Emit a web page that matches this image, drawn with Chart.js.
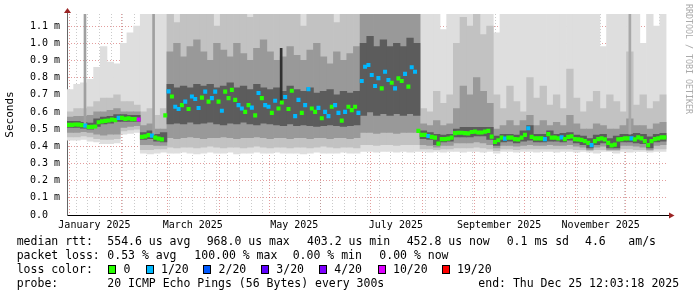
<!DOCTYPE html>
<html>
<head>
<meta charset="utf-8">
<script src="https://cdn.jsdelivr.net/npm/chart.js@4.4.1/dist/chart.umd.min.js"></script>
<style>
body { margin: 0; background: #fff; }
#wrap { position: relative; width: 697px; height: 297px; font-family: "DejaVu Sans Mono", monospace; }
#wrap .t { position: absolute; font-size: 11.5px; line-height: 14px; white-space: pre; color: #000; }
#wrap .sq { position: absolute; width: 8px; height: 9px; box-sizing: border-box; border: 1px solid #000; top: 265px; }
#mark { position: absolute; left: 685px; top: 4px; writing-mode: vertical-rl; font-size: 8.3px; line-height: 8px; color: #aaa; white-space: pre; }
</style>
</head>
<body>
<div id="wrap">
  <canvas id="chart" width="697" height="297"></canvas>
  <div id="mark">RRDTOOL / TOBI OETIKER</div>
  <span class="t" style="left:16.7px;top:234px">median rtt:</span>
  <span class="t" style="left:107.3px;top:234px">554.6 us avg</span>
  <span class="t" style="left:206.7px;top:234px">968.0 us max</span>
  <span class="t" style="left:307px;top:234px">403.2 us min</span>
  <span class="t" style="left:406.7px;top:234px">452.8 us now</span>
  <span class="t" style="left:506.7px;top:234px">0.1 ms sd</span>
  <span class="t" style="left:585px;top:234px">4.6</span>
  <span class="t" style="left:628.3px;top:234px">am/s</span>
  <span class="t" style="left:16.7px;top:248px">packet loss:</span>
  <span class="t" style="left:107.3px;top:248px">0.53 % avg</span>
  <span class="t" style="left:194.3px;top:248px">100.00 % max</span>
  <span class="t" style="left:292.7px;top:248px">0.00 % min</span>
  <span class="t" style="left:379.3px;top:248px">0.00 % now</span>
  <span class="t" style="left:16.7px;top:262px">loss color:</span>
  <span class="t" style="left:16.7px;top:276px">probe:</span>
  <span class="t" style="left:107.3px;top:276px">20 ICMP Echo Pings (56 Bytes) every 300s</span>
  <span class="t" style="left:478.3px;top:276px">end: Thu Dec 25 12:03:18 2025</span>
</div>
<script>
// loss legend
const lossSteps = [0, 1, 2, 3, 4, 10, 19];
const lossNames = ['0', '1/20', '2/20', '3/20', '4/20', '10/20', '19/20'];
const lossColors = ['#26ff00', '#00b8ff', '#0059ff', '#5e00ff', '#7e00ff', '#dd00ff', '#ff0000'];

// x axis labels (mid month)
const monthLabels = ['January 2025', 'March 2025', 'May 2025', 'July 2025', 'September 2025', 'November 2025'];
const labelMonths = [0, 2, 4, 6, 8, 10];

// median rtt (ms), one value per 2 days
const median = [
  0.525, 0.525, 0.527, 0.526, 0.523, 0.52, 0.512, 0.513, 0.515, 0.54,
  0.545, 0.548, 0.55, 0.555, 0.552, 0.565, 0.565, 0.56, 0.562, 0.558,
  0.558, 0.556, 0.455, 0.458, 0.465, 0.462, 0.45, 0.445, 0.44, 0.58,
  0.72, 0.69, 0.63, 0.617, 0.64, 0.66, 0.617, 0.69, 0.675, 0.623,
  0.683, 0.718, 0.66, 0.68, 0.718, 0.66, 0.607, 0.718, 0.68, 0.728,
  0.67, 0.64, 0.62, 0.6, 0.64, 0.625, 0.58, 0.71, 0.68, 0.64,
  0.63, 0.594, 0.665, 0.62, 0.655, 0.687, 0.617, 0.723, 0.576, 0.67,
  0.594, 0.64, 0.733, 0.62, 0.6, 0.624, 0.563, 0.6, 0.576, 0.63,
  0.64, 0.594, 0.549, 0.6, 0.63, 0.61, 0.63, 0.594, 0.78, 0.863,
  0.873, 0.815, 0.751, 0.797, 0.737, 0.834, 0.786, 0.77, 0.737, 0.795,
  0.78, 0.821, 0.747, 0.86, 0.834, 0.49, 0.466, 0.466, 0.46, 0.455,
  0.45, 0.415, 0.442, 0.442, 0.445, 0.45, 0.477, 0.479, 0.479, 0.477,
  0.475, 0.483, 0.485, 0.48, 0.48, 0.485, 0.49, 0.456, 0.425, 0.435,
  0.45, 0.445, 0.45, 0.45, 0.442, 0.44, 0.45, 0.466, 0.505, 0.455,
  0.446, 0.446, 0.446, 0.442, 0.471, 0.45, 0.45, 0.446, 0.452, 0.442,
  0.455, 0.458, 0.442, 0.44, 0.437, 0.43, 0.42, 0.407, 0.43, 0.442,
  0.446, 0.44, 0.42, 0.405, 0.41, 0.44, 0.442, 0.446, 0.446, 0.446,
  0.44, 0.452, 0.446, 0.43, 0.407, 0.43, 0.442, 0.446, 0.452, 0.452
];
// lost pings out of 20 for each median point
const medianLoss = [
  0, 0, 0, 0, 0, 1, 0, 0, 0, 0,
  0, 0, 0, 0, 0, 1, 0, 0, 0, 0,
  0, 10, 0, 0, 0, 1, 0, 0, 0, 0,
  1, 0, 1, 1, 0, 1, 0, 1, 1, 1,
  0, 1, 0, 1, 1, 0, 1, 0, 0, 0,
  0, 1, 1, 0, 0, 1, 0, 1, 0, 1,
  1, 0, 1, 0, 0, 1, 0, 0, 1, 1,
  0, 1, 1, 0, 0, 1, 0, 1, 1, 0,
  1, 1, 0, 1, 0, 0, 0, 1, 1, 1,
  1, 1, 1, 1, 0, 1, 1, 0, 1, 0,
  0, 1, 0, 1, 1, 0, 0, 0, 1, 0,
  0, 0, 0, 0, 0, 0, 0, 0, 0, 0,
  0, 0, 0, 0, 0, 0, 0, 0, 0, 0,
  0, 1, 0, 0, 0, 0, 0, 0, 1, 0,
  0, 0, 0, 1, 0, 0, 0, 0, 1, 0,
  0, 0, 0, 0, 0, 0, 0, 1, 0, 0,
  0, 0, 0, 0, 0, 0, 0, 0, 0, 1,
  0, 0, 0, 0, 0, 0, 0, 0, 0, 0
];

// smoke bands (ms), one value per 4 days, outermost first
const lightLo = [
  0.435, 0.435, 0.44, 0.43, 0.425, 0.415, 0.415, 0.42, 0.47, 0.475,
  0.48, 0.36, 0.355, 0.36, 0.365, 0.36, 0.36, 0.365, 0.36, 0.355,
  0.36, 0.365, 0.36, 0.36, 0.365, 0.355, 0.36, 0.36, 0.365, 0.36,
  0.36, 0.365, 0.36, 0.36, 0.36, 0.355, 0.36, 0.365, 0.36, 0.36,
  0.36, 0.365, 0.36, 0.36, 0.37, 0.37, 0.365, 0.37, 0.37, 0.365,
  0.37, 0.365, 0.37, 0.37, 0.365, 0.37, 0.365, 0.37, 0.37, 0.365,
  0.37, 0.37, 0.365, 0.37, 0.36, 0.37, 0.37, 0.365, 0.37, 0.37,
  0.365, 0.37, 0.37, 0.365, 0.37, 0.37, 0.365, 0.37, 0.365, 0.36,
  0.37, 0.37, 0.36, 0.37, 0.365, 0.37, 0.37, 0.365, 0.37, 0.37
];
const lightHi = [
  0.73, 0.76, 0.77, 0.79, 0.86, 0.98, 0.89, 0.88, 1.0, 1.06,
  1.1, 1.2, 1.2, 1.2, 1.2, 1.2, 1.2, 1.2, 1.2, 1.2,
  1.2, 1.2, 1.2, 1.2, 1.2, 1.2, 1.2, 1.2, 1.2, 1.2,
  1.2, 1.2, 1.2, 1.2, 1.2, 1.2, 1.2, 1.2, 1.2, 1.2,
  1.2, 1.2, 1.2, 1.2, 1.2, 1.2, 1.2, 1.2, 1.2, 1.2,
  1.2, 1.2, 1.2, 1.2, 1.2, 1.2, 1.08, 1.2, 1.2, 1.2,
  1.2, 1.2, 1.2, 1.2, 1.06, 1.2, 1.2, 1.2, 1.2, 1.2,
  1.2, 1.2, 1.2, 1.2, 1.2, 1.2, 1.2, 1.2, 1.2, 1.2,
  0.98, 1.2, 1.2, 1.2, 1.2, 1.2, 1.0, 1.2, 1.1, 1.2
];
const midLo = [
  0.455, 0.455, 0.46, 0.455, 0.445, 0.44, 0.44, 0.445, 0.49, 0.495,
  0.5, 0.38, 0.38, 0.385, 0.385, 0.395, 0.39, 0.395, 0.395, 0.39,
  0.395, 0.4, 0.395, 0.39, 0.395, 0.395, 0.39, 0.395, 0.4, 0.395,
  0.39, 0.395, 0.395, 0.39, 0.395, 0.395, 0.39, 0.395, 0.4, 0.395,
  0.39, 0.395, 0.395, 0.39, 0.41, 0.41, 0.405, 0.41, 0.41, 0.405,
  0.41, 0.41, 0.41, 0.385, 0.385, 0.38, 0.385, 0.385, 0.39, 0.39,
  0.39, 0.395, 0.39, 0.385, 0.375, 0.385, 0.385, 0.38, 0.385, 0.385,
  0.385, 0.385, 0.385, 0.385, 0.385, 0.385, 0.38, 0.38, 0.375, 0.38,
  0.38, 0.375, 0.375, 0.385, 0.385, 0.38, 0.38, 0.375, 0.385, 0.385
];
const midHi = [
  0.6, 0.62, 0.62, 0.63, 0.66, 0.68, 0.68, 0.7, 0.66, 0.66,
  0.64, 0.6, 0.62, 0.58, 0.62, 1.2, 1.12, 1.2, 1.2, 1.2,
  1.2, 1.2, 1.1, 1.2, 1.2, 1.2, 1.2, 1.15, 1.2, 1.2,
  1.2, 1.2, 1.2, 1.2, 1.2, 1.1, 1.2, 1.2, 1.2, 1.2,
  1.12, 1.2, 1.2, 1.2, 1.2, 1.2, 1.2, 1.2, 1.2, 1.2,
  1.2, 1.2, 1.2, 0.62, 0.6, 0.72, 0.65, 0.7, 1.0, 1.15,
  1.1, 1.2, 1.05, 1.1, 0.7, 0.62, 0.75, 0.66, 0.6, 0.8,
  0.68, 0.75, 0.64, 0.7, 0.62, 0.85, 0.68, 0.6, 0.66, 0.72,
  0.62, 0.7, 0.66, 0.6, 0.95, 0.64, 0.7, 0.62, 0.66, 0.7
];
const darkLo = [
  0.48, 0.48, 0.485, 0.48, 0.47, 0.465, 0.47, 0.47, 0.51, 0.515,
  0.52, 0.41, 0.41, 0.405, 0.405, 0.45, 0.445, 0.45, 0.455, 0.45,
  0.445, 0.45, 0.45, 0.455, 0.45, 0.445, 0.45, 0.45, 0.455, 0.45,
  0.445, 0.45, 0.45, 0.445, 0.45, 0.45, 0.445, 0.45, 0.45, 0.445,
  0.45, 0.45, 0.445, 0.45, 0.48, 0.48, 0.475, 0.48, 0.48, 0.475,
  0.48, 0.48, 0.48, 0.41, 0.405, 0.395, 0.405, 0.405, 0.42, 0.42,
  0.42, 0.425, 0.42, 0.41, 0.39, 0.405, 0.405, 0.4, 0.405, 0.41,
  0.405, 0.405, 0.41, 0.405, 0.405, 0.41, 0.4, 0.395, 0.38, 0.395,
  0.4, 0.38, 0.38, 0.405, 0.405, 0.4, 0.395, 0.38, 0.405, 0.41
];
const darkHi = [
  0.57, 0.575, 0.575, 0.58, 0.6, 0.6, 0.61, 0.62, 0.6, 0.6,
  0.6, 0.52, 0.53, 0.5, 0.5, 0.95, 1.0, 0.92, 0.98, 1.02,
  0.95, 0.9, 1.0, 0.96, 0.92, 1.0, 0.94, 0.9, 0.97, 1.02,
  0.95, 0.9, 0.92, 0.98, 0.93, 0.9, 0.96, 1.0, 0.92, 0.88,
  0.95, 0.9, 0.94, 0.98, 1.2, 1.2, 1.2, 1.2, 1.2, 1.2,
  1.2, 1.2, 1.2, 0.53, 0.52, 0.55, 0.52, 0.53, 0.62, 0.75,
  0.7, 0.8, 0.72, 0.65, 0.5, 0.52, 0.55, 0.52, 0.55, 0.58,
  0.52, 0.55, 0.52, 0.54, 0.52, 0.58, 0.53, 0.5, 0.5, 0.53,
  0.52, 0.5, 0.5, 0.52, 0.56, 0.52, 0.52, 0.5, 0.53, 0.54
];
const coreLo = [
  0.51, 0.51, 0.505, 0.5, 0.515, 0.53, 0.535, 0.545, 0.545, 0.545,
  0.545, 0.44, 0.445, 0.43, 0.425, 0.53, 0.535, 0.53, 0.54, 0.53,
  0.535, 0.54, 0.53, 0.525, 0.535, 0.53, 0.54, 0.53, 0.525, 0.535,
  0.53, 0.525, 0.52, 0.53, 0.52, 0.525, 0.52, 0.515, 0.52, 0.525,
  0.52, 0.515, 0.52, 0.525, 0.58, 0.6, 0.58, 0.59, 0.58, 0.59,
  0.58, 0.59, 0.58, 0.445, 0.44, 0.41, 0.425, 0.43, 0.455, 0.455,
  0.455, 0.46, 0.46, 0.44, 0.405, 0.425, 0.43, 0.42, 0.43, 0.435,
  0.425, 0.425, 0.43, 0.43, 0.425, 0.435, 0.42, 0.41, 0.39, 0.41,
  0.42, 0.39, 0.39, 0.425, 0.425, 0.42, 0.415, 0.39, 0.425, 0.43
];
const coreHi = [
  0.545, 0.545, 0.54, 0.535, 0.56, 0.57, 0.575, 0.585, 0.585, 0.58,
  0.58, 0.48, 0.49, 0.47, 0.48, 0.76, 0.74, 0.75, 0.74, 0.76,
  0.75, 0.76, 0.74, 0.75, 0.77, 0.74, 0.75, 0.73, 0.76, 0.74,
  0.73, 0.74, 0.72, 0.75, 0.73, 0.72, 0.74, 0.71, 0.72, 0.73,
  0.7, 0.72, 0.71, 0.72, 1.0, 1.04, 0.98, 1.02, 0.98, 1.0,
  0.98, 1.03, 1.0, 0.49, 0.48, 0.47, 0.465, 0.47, 0.5, 0.51,
  0.51, 0.51, 0.51, 0.51, 0.46, 0.47, 0.47, 0.465, 0.49, 0.52,
  0.47, 0.47, 0.49, 0.47, 0.475, 0.48, 0.465, 0.46, 0.445, 0.465,
  0.47, 0.445, 0.46, 0.47, 0.47, 0.475, 0.47, 0.455, 0.47, 0.475
];

// single narrow outlier columns (day, low, high)
const spikeDay = [10.8, 52.0, 128.6, 338.0];
const spikeLo = [0.52, 0.47, 0.66, 0.47];
const spikeHi = [1.2, 1.2, 0.97, 1.2];
const spikeColors = ['#a0a0a0', '#a0a0a0', '#303030', '#a8a8a8'];

const FONT = 'DejaVu Sans Mono';
const RED = 'rgba(200, 60, 60, 0.5)';
const GRAY = 'rgba(150, 150, 150, 0.5)';
const medianHalf = 0.0102;

// legend squares for loss colours
const squareX = [108.3, 145.7, 203.3, 261, 319, 377.7, 441.7];
const wrap = document.getElementById('wrap');
lossNames.forEach((name, k) => {
  const sq = document.createElement('div');
  sq.className = 'sq';
  sq.style.left = squareX[k] + 'px';
  sq.style.background = lossColors[k];
  wrap.appendChild(sq);
  const t = document.createElement('span');
  t.className = 't';
  t.style.left = (squareX[k] + 15.3) + 'px';
  t.style.top = '262px';
  t.textContent = name;
  wrap.appendChild(t);
});

function colorForLoss(n) {
  let c = lossColors[0];
  lossSteps.forEach((s, k) => { if (n >= s) c = lossColors[k]; });
  return c;
}

// time axis in days from the start of the 360 day window
const start = Date.UTC(2024, 11, 30, 12);
const day = (y, m, d) => (Date.UTC(y, m, d) - start) / 864e5;
const xTicks = [];
for (let m = 0; m < 12; m++) xTicks.push({ value: day(2025, m, 1), kind: 'major' });
for (let d = day(2025, 0, 5); d < 360; d += 7) xTicks.push({ value: d, kind: 'minor' });
monthLabels.forEach((t, k) => xTicks.push({ value: day(2025, labelMonths[k], 16), kind: 'label', text: t }));
xTicks.sort((a, b) => a.value - b.value);

const smokeX = lightLo.map((_, j) => j * 4 + 2);
const medianX = median.map((_, i) => i * 2 + 1);
const bars = (lo, hi) => smokeX.map((x, k) => ({ x, y: [lo[k], hi[k]] }));
const common = { grouped: false, barPercentage: 1, categoryPercentage: 1, borderWidth: 0 };

const arrows = {
  id: 'arrows',
  afterDraw(chart) {
    const { ctx, chartArea: a } = chart;
    ctx.save();
    ctx.lineWidth = 1;
    ctx.strokeStyle = '#666';
    ctx.beginPath(); ctx.moveTo(a.left + 0.5, a.top); ctx.lineTo(a.left + 0.5, a.top - 3); ctx.stroke();
    ctx.strokeStyle = '#000';
    ctx.beginPath(); ctx.moveTo(a.right, a.bottom + 0.5); ctx.lineTo(a.right + 3, a.bottom + 0.5); ctx.stroke();
    ctx.fillStyle = '#9b2424';
    ctx.beginPath();
    ctx.moveTo(a.left - 3, a.top - 1); ctx.lineTo(a.left + 4, a.top - 1); ctx.lineTo(a.left + 0.5, a.top - 6);
    ctx.fill();
    ctx.beginPath();
    ctx.moveTo(a.right + 2.5, a.bottom - 2.5); ctx.lineTo(a.right + 2.5, a.bottom + 3.5); ctx.lineTo(a.right + 8, a.bottom + 0.5);
    ctx.fill();
    ctx.restore();
  }
};

const hiddenX = { type: 'linear', min: 0, max: 360, display: false, offset: false, grid: { offset: false } };

new Chart(document.getElementById('chart'), {
  type: 'bar',
  data: {
    datasets: [
      { ...common, label: 'median', xAxisID: 'xm', order: 0,
        data: medianX.map((x, i) => ({ x, y: [median[i] - medianHalf, median[i] + medianHalf] })),
        backgroundColor: medianLoss.map(colorForLoss) },
      { ...common, label: 'outliers', xAxisID: 'xo', order: 1, barThickness: 2,
        data: spikeDay.map((x, k) => ({ x, y: [spikeLo[k], spikeHi[k]] })),
        backgroundColor: spikeColors },
      { ...common, label: 'core', xAxisID: 'xs', order: 2, data: bars(coreLo, coreHi), backgroundColor: '#5c5c5c' },
      { ...common, label: 'dark', xAxisID: 'xs', order: 3, data: bars(darkLo, darkHi), backgroundColor: '#999999' },
      { ...common, label: 'mid', xAxisID: 'xs', order: 4, data: bars(midLo, midHi), backgroundColor: '#c2c2c2' },
      { ...common, label: 'light', xAxisID: 'xs', order: 5, data: bars(lightLo, lightHi), backgroundColor: '#dedede' }
    ]
  },
  options: {
    responsive: false,
    devicePixelRatio: 1,
    animation: false,
    events: [],
    layout: { padding: { top: 14, right: 30.5, bottom: 0, left: 0 } },
    plugins: { legend: { display: false }, tooltip: { enabled: false } },
    scales: {
      x: {
        type: 'linear', min: 0, max: 360, position: 'bottom', z: 1, offset: false,
        afterBuildTicks: axis => { axis.ticks = xTicks.map(t => ({ ...t })); },
        afterFit: axis => { axis.height = 82; },
        grid: {
          drawTicks: false, offset: false,
          color: ctx => ctx.tick && ctx.tick.kind === 'major' ? RED : ctx.tick && ctx.tick.kind === 'minor' ? GRAY : 'rgba(0,0,0,0)'
        },
        border: { color: '#000', width: 1, dash: [1, 2] },
        ticks: {
          autoSkip: false, maxRotation: 0, minRotation: 0, padding: 4, color: '#000',
          font: { family: FONT, size: 10 },
          callback: (v, idx, ticks) => ticks[idx].text || ''
        }
      },
      xs: hiddenX,
      xm: hiddenX,
      xo: hiddenX,
      y: {
        type: 'linear', min: 0, max: 1.17, z: 1,
        afterFit: axis => { axis.width = 67; },
        grid: { drawTicks: false, color: ctx => ctx.tick && ctx.tick.value === 0 ? 'rgba(0,0,0,0)' : RED },
        border: { color: '#666', width: 1, dash: [1, 2] },
        title: { display: true, text: 'Seconds', color: '#000', font: { family: FONT, size: 11 }, padding: { top: 4, bottom: 0 } },
        ticks: {
          stepSize: 0.1, includeBounds: false, padding: 7, color: '#000',
          font: { family: FONT, size: 10 },
          callback: v => v === 0 ? '0.0  ' : v.toFixed(1) + ' m'
        }
      }
    }
  },
  plugins: [arrows]
});
</script>
</body>
</html>
